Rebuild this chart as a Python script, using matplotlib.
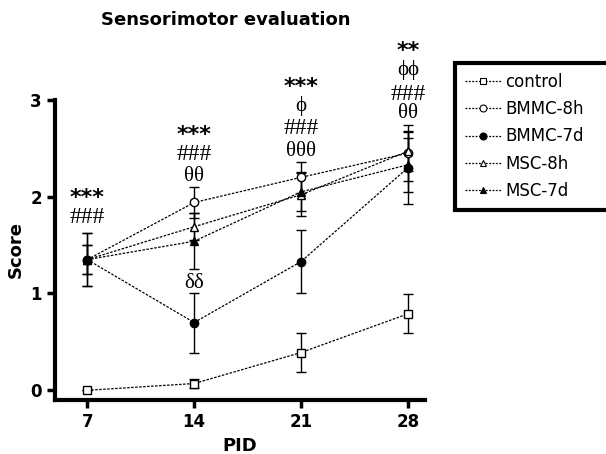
import numpy as np
import matplotlib
matplotlib.use("Agg")
import matplotlib.pyplot as plt
from matplotlib.lines import Line2D

# data
pid = [7, 14, 21, 28]
groups = ["control", "BMMC-8h", "BMMC-7d", "MSC-8h", "MSC-7d"]
means = {
    "control": [0.0, 0.07, 0.39, 0.79],
    "BMMC-8h": [1.35, 1.94, 2.20, 2.45],
    "BMMC-7d": [1.35, 0.70, 1.33, 2.30],
    "MSC-8h":  [1.35, 1.69, 2.02, 2.47],
    "MSC-7d":  [1.35, 1.54, 2.05, 2.33],
}
sems = {
    "control": [0.0, 0.05, 0.20, 0.20],
    "BMMC-8h": [0.15, 0.16, 0.16, 0.29],
    "BMMC-7d": [0.27, 0.31, 0.33, 0.38],
    "MSC-8h":  [0.27, 0.14, 0.22, 0.20],
    "MSC-7d":  [0.15, 0.29, 0.20, 0.28],
}
markers = {"control": "s", "BMMC-8h": "o", "BMMC-7d": "o", "MSC-8h": "^", "MSC-7d": "^"}
filled = {"control": False, "BMMC-8h": False, "BMMC-7d": True, "MSC-8h": False, "MSC-7d": True}

# significance marks above each PID (top to bottom) and their y positions
marks = {
    7:  [("***", 1.99), ("###", 1.78)],
    14: [("***", 2.64), ("###", 2.44), ("θθ", 2.21)],
    21: [("***", 3.13), ("ϕ", 2.94), ("###", 2.70), ("θθθ", 2.47)],
    28: [("**", 3.50), ("ϕϕ", 3.31), ("###", 3.06), ("θθ", 2.86)],
}
delta_mark = (14, 1.10, "δδ")

fig = plt.figure(figsize=(6.06, 4.54), dpi=100)
ax = fig.add_axes([0.091, 0.119, 0.61, 0.661])

handles = []
for g in groups:
    fc = "black" if filled[g] else "white"
    ax.errorbar(pid, means[g], yerr=sems[g], color="black", lw=0.9,
                ls=(0, (2, 1.2)), marker=markers[g], ms=6, mfc=fc, mec="black",
                mew=1.0, capsize=3.5, capthick=1.0, elinewidth=1.0,
                clip_on=False, zorder=3)
    handles.append(Line2D([], [], color="black", lw=0.9, ls=(0, (1.5, 1.2)),
                          marker=markers[g], ms=5, mfc=fc, mec="black", mew=0.8,
                          label=g))

ax.set_xlim(4.9, 29.1)
ax.set_ylim(-0.1, 3.0)
ax.set_xticks(pid)
ax.set_yticks([0, 1, 2, 3])
for s in ["top", "right"]:
    ax.spines[s].set_visible(False)
for s in ["left", "bottom"]:
    ax.spines[s].set_linewidth(3)
ax.tick_params(width=2.5, length=6, labelsize=12)
for lab in ax.get_xticklabels() + ax.get_yticklabels():
    lab.set_fontweight("bold")
ax.set_xlabel("PID", fontsize=13, fontweight="bold")
ax.set_ylabel("Score", fontsize=13, fontweight="bold")
fig.text(0.372, 0.956, "Sensorimotor evaluation", fontsize=13, fontweight="bold",
         ha="center", va="center")

for x, items in marks.items():
    for txt, y in items:
        if "*" in txt:
            ax.text(x, y, txt, ha="center", va="center", fontsize=16,
                    fontweight="bold", clip_on=False)
        elif "#" in txt:
            ax.text(x, y, txt, ha="center", va="center", fontsize=17,
                    family="Liberation Serif", clip_on=False)
        else:
            ax.text(x, y, txt, ha="center", va="center", fontsize=15,
                    family="Liberation Serif", clip_on=False)
ax.text(delta_mark[0], delta_mark[1], delta_mark[2], ha="center", va="center",
        fontsize=15, family="Liberation Serif")

# legend box runs off the right edge as in the original
leg = fig.legend(handles=handles, loc="upper left",
                 bbox_to_anchor=(0.751, 0.542, 0.30, 0.319), mode="expand",
                 fontsize=12, frameon=True, fancybox=False, edgecolor="black",
                 handlelength=2.15, borderpad=0.6, labelspacing=0.55,
                 handletextpad=0.25, borderaxespad=0, framealpha=1)
leg.get_frame().set_linewidth(3)

fig.savefig("out.png", dpi=100)
